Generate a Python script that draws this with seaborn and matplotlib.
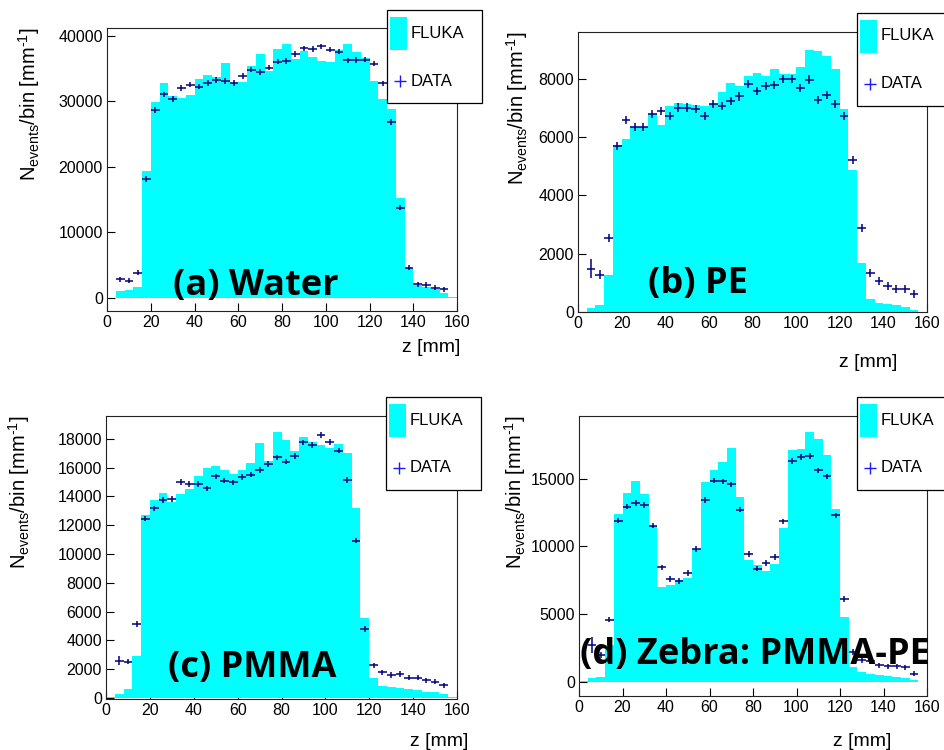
# Depth profiles: FLUKA simulation vs measured data for four targets
import numpy as np
import pandas as pd
import matplotlib
matplotlib.use('Agg')
import matplotlib.pyplot as plt
import seaborn as sns
from matplotlib.patches import Rectangle
from matplotlib.lines import Line2D

# 4 mm bins from 0 to 160 mm
z_edges = np.arange(0, 161, 4)
z_centers = (z_edges[:-1] + z_edges[1:]) / 2
data_z = z_centers[1:39]

# (a) Water
water_fluka = [0, 1020, 1170, 1680, 19410, 29950, 32760, 30820, 30460, 30970,
               33370, 34040, 33690, 35810, 32860, 33010, 35460, 37190, 34690, 37950,
               38770, 36420, 37750, 36730, 36220, 36070, 37850, 38720, 37590, 36580,
               33110, 30310, 28780, 15280, 4580, 1940, 1680, 1270, 660, 150]
water_data = [2800, 2600, 3820, 18140, 28680, 31070, 30360, 32040, 32550, 32250,
              32810, 33270, 33110, 32810, 33880, 34850, 34490, 35150, 36070, 36170,
              37240, 38100, 38000, 38410, 37900, 37600, 36270, 36320, 36370, 35760,
              32760, 26850, 13750, 4580, 2040, 1940, 1530, 1270]
water_err = 400

# (b) PE
pe_fluka = [0, 150, 250, 1280, 5710, 5940, 6340, 6340, 6800, 6420,
            7050, 7180, 7120, 7090, 7050, 7140, 7540, 7860, 7750, 8090,
            8210, 8090, 8340, 8170, 8150, 8400, 8990, 8940, 8770, 8340,
            6970, 4880, 1680, 460, 310, 290, 250, 170, 80, 0]
pe_data = [1490, 1280, 2550, 5690, 6570, 6340, 6340, 6800, 6890, 6720,
           7010, 7010, 6970, 6710, 7140, 7050, 7230, 7390, 7810, 7580,
           7750, 7770, 8000, 8000, 7690, 7970, 7280, 7430, 7140, 6720,
           5220, 2890, 1340, 1060, 890, 800, 800, 610]
pe_err = [340, 160] + [140] * 36

# (c) PMMA
pmma_fluka = [100, 280, 600, 2930, 12730, 13760, 14230, 13600, 14130, 14480,
              15380, 15960, 16140, 15840, 15570, 15800, 16300, 17690, 16490, 18450,
              17940, 17140, 18150, 17760, 17600, 17370, 17640, 17000, 13210, 5570,
              1410, 850, 790, 720, 650, 550, 440, 420, 280, 90]
pmma_data = [2590, 2520, 5130, 12450, 13160, 13760, 13830, 14990, 14870, 14870,
             14550, 15380, 15100, 14970, 15330, 15500, 15840, 16260, 16700, 16420,
             16810, 17740, 17580, 18270, 17760, 17180, 15150, 10920, 4800, 2260,
             1780, 1590, 1660, 1410, 1410, 1220, 1130, 880]
pmma_err = [300] + [190] * 37

# (d) Zebra PMMA-PE
zebra_fluka = [70, 320, 370, 2770, 12400, 13920, 14830, 13850, 11540, 6990,
               7180, 7500, 7650, 9800, 14710, 15640, 16250, 17230, 13630, 8970,
               8650, 8210, 8700, 11350, 17110, 17160, 18410, 17920, 16740, 12770,
               4780, 1100, 740, 610, 540, 440, 370, 290, 200, 50]
zebra_data = [2770, 2030, 4610, 11910, 12940, 13190, 13040, 11540, 8460, 7600,
              7450, 8060, 9830, 13430, 14850, 14800, 14580, 12720, 9440, 8360,
              8770, 9220, 11840, 16300, 16570, 16670, 15610, 15150, 12300, 6150,
              2230, 1620, 1540, 1250, 1180, 1180, 1100, 640]
zebra_err = [600] + [200] * 37

sns.set_theme(style='ticks')
plt.rcParams['font.family'] = ['Liberation Sans', 'DejaVu Sans']
plt.rcParams['mathtext.fontset'] = 'custom'
plt.rcParams['mathtext.rm'] = 'Liberation Sans'
plt.rcParams['text.color'] = 'black'
plt.rcParams['axes.labelcolor'] = 'black'
plt.rcParams['xtick.color'] = 'black'
plt.rcParams['ytick.color'] = 'black'

W, H = 944, 750
fig = plt.figure(figsize=(W / 100, H / 100), dpi=100)

CYAN = '#00ffff'
NAVY = '#000080'

# left, top, right, bottom in pixels
panels = [
    dict(box=(107, 28, 457, 311), fluka=water_fluka, data=water_data, err=water_err,
         ylim=(-2030, 41220), yticks=[0, 10000, 20000, 30000, 40000],
         text='(a) Water', tpos=(0.188, 0.058), leg=(387, 10),
         ylab_x=-0.186, xlab=(460, 347)),
    dict(box=(578, 32, 927, 312), fluka=pe_fluka, data=pe_data, err=pe_err,
         ylim=(0, 9600), yticks=[0, 2000, 4000, 6000, 8000],
         text='(b) PE', tpos=(0.2, 0.068), leg=(857, 13),
         ylab_x=-0.1375, xlab=(897, 363)),
    dict(box=(106, 416, 457, 699), fluka=pmma_fluka, data=pmma_data, err=pmma_err,
         ylim=(-70, 19580), yticks=list(range(0, 18001, 2000)),
         text='(c) PMMA', tpos=(0.177, 0.079), leg=(386, 397),
         ylab_x=-0.21, xlab=(468, 741)),
    dict(box=(579, 416, 927, 696), fluka=zebra_fluka, data=zebra_data, err=zebra_err,
         ylim=(-1000, 19600), yticks=[0, 5000, 10000, 15000],
         text='(d) Zebra: PMMA-PE', tpos=(0.003, 0.116), leg=(857, 397),
         ylab_x=-0.147, xlab=(891, 741)),
]


def fx(px):
    return px / W


def fy(py):
    return 1 - py / H


for p in panels:
    l, t, r, b = p['box']
    ax = fig.add_axes([l / W, 1 - b / H, (r - l) / W, (b - t) / H])

    hist_df = pd.DataFrame({'z': z_centers, 'n': p['fluka']})

    sns.histplot(data=hist_df, x='z', weights='n', binwidth=4, binrange=(0, 160),
                 element='step', fill=True, color=CYAN, alpha=1, linewidth=0,
                 ax=ax, zorder=1)
    # data points drawn as ROOT-style error crosses (half bin width in z)
    ax.errorbar(data_z, p['data'], xerr=2, yerr=p['err'], fmt='none',
                ecolor=NAVY, elinewidth=1.1, capsize=0, zorder=3)

    ax.set_xlim(0, 160)
    ax.set_ylim(*p['ylim'])
    ax.set_xticks(range(0, 161, 20))
    ax.set_yticks(p['yticks'])
    ax.tick_params(direction='in', length=6, width=0.8, labelsize=11.5,
                   pad=3, colors='black')
    for sp in ax.spines.values():
        sp.set_linewidth(0.8)
        sp.set_color('#222222')

    ax.set_ylabel(r'$\mathregular{N_{events}}$/bin [mm$^{\text{-1}}$]', fontsize=14.5, loc='top')
    ax.yaxis.set_label_coords(p['ylab_x'], 1.0)

    ax.set_xlabel('z [mm]', fontsize=14, loc='right')
    xr, yc = p['xlab']
    ax.xaxis.set_label_coords((xr - l) / (r - l), (b - yc) / (b - t))
    ax.xaxis.label.set_verticalalignment('center')

    ax.text(p['tpos'][0], p['tpos'][1], p['text'], transform=ax.transAxes,
            fontsize=26, fontweight='bold', family='Open Sans', color='black',
            ha='left', va='baseline', zorder=5, clip_on=False)

    # legend box, ROOT TLegend look
    lx, ly = p['leg']
    fig.add_artist(Rectangle((fx(lx), fy(ly + 93)), 95 / W, 93 / H,
                             transform=fig.transFigure, facecolor='white',
                             edgecolor='black', linewidth=0.9, zorder=10))
    fig.add_artist(Rectangle((fx(lx + 3), fy(ly + 40)), 17 / W, 33 / H,
                             transform=fig.transFigure, facecolor=CYAN,
                             edgecolor='none', zorder=11))
    fig.add_artist(Line2D([fx(lx + 12.5)], [fy(ly + 71)], marker='+',
                          markersize=8, mew=1.0, color='#1a1aff',
                          transform=fig.transFigure, zorder=11))
    fig.text(fx(lx + 24), fy(ly + 23), 'FLUKA', fontsize=12, ha='left',
             va='center', zorder=12)
    fig.text(fx(lx + 24), fy(ly + 71), 'DATA', fontsize=12, ha='left',
             va='center', zorder=12)

fig.savefig('out.png', dpi=100)
